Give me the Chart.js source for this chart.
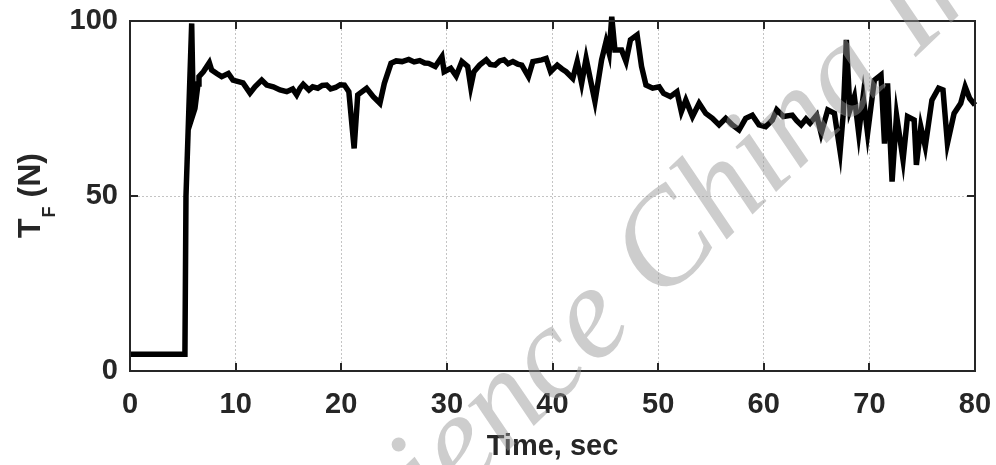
<!DOCTYPE html>
<html>
<head>
<meta charset="utf-8">
<script src="https://cdn.jsdelivr.net/npm/chart.js@4.4.1/dist/chart.umd.min.js"></script>
<style>
  html, body { margin: 0; padding: 0; background: #fff; }
  #wrap { width: 996px; height: 465px; }
</style>
</head>
<body>
<div id="wrap"><canvas id="forceChart" width="996" height="465"></canvas></div>
<script>
// tension force record, seconds vs newtons
const tSec = [0, 5.2, 5.3, 5.84, 6.0, 6.15, 6.44, 6.53, 6.94, 7.51, 7.73, 8.21, 8.68, 9.31, 9.75,
  10.7, 11.36, 11.83, 12.47, 12.94, 13.57, 14.2, 14.84, 15.4, 15.78,
  16.1, 16.4, 16.94, 17.3, 17.78, 18.2, 18.62, 19.0, 19.46, 19.9, 20.3, 20.72, 21.22, 21.56,
  22.4, 23.03, 23.66, 24.08, 24.71, 25.2, 25.76, 26.39, 26.9, 27.43, 27.9, 28.27, 28.9, 29.53, 29.74,
  30.37, 30.88, 31.42, 31.97, 32.26, 32.56, 33.1, 33.73, 34.1, 34.57, 35.0, 35.41, 35.8, 36.25, 36.7,
  37.09, 37.72, 38.14, 38.98, 39.4, 39.82, 40.45, 40.9, 41.29, 41.92, 42.34, 42.76, 43.18, 43.6,
  44.02, 44.65, 45.07, 45.36, 45.61, 45.91, 46.54, 46.96, 47.38, 48.01, 48.43, 48.85, 49.48,
  50.1, 50.52, 51.15, 51.78, 52.2, 52.62, 53.25, 53.88, 54.51, 55.14, 55.77, 56.4, 57.03, 57.66,
  58.29, 58.92, 59.55, 60.18, 60.81, 61.23, 61.86, 62.7, 63.1, 63.54, 64.0, 64.38, 65.01, 65.43,
  66.06, 66.69, 67.23, 67.53, 67.82, 68.16, 68.58, 68.99, 69.41, 69.83, 70.47, 71.1, 71.43, 71.72,
  72.15, 72.57, 73.19, 73.61, 74.24, 74.45, 74.87, 75.29, 75.92, 76.55, 76.97, 77.39, 78.02,
  78.65, 79.07, 79.49, 80];
const forceN = [4.8, 4.8, 50, 99.3, 73.6, 75, 82, 84.1, 85.5, 88.1, 86, 85, 84.1, 85, 83.1,
  82.3, 79.4, 81.2, 83.1, 81.7, 81.2, 80.3, 79.8, 80.6, 78.9,
  80.8, 81.9, 80.3, 81.2, 80.8, 81.6, 81.7, 80.6, 81, 81.8, 81.7, 79.8, 63.6, 78.9,
  80.8, 78.4, 76.5, 82.2, 87.9, 88.6, 88.4, 89, 88.3, 88.7, 88.0, 87.9, 87, 89.8, 85.5,
  86.5, 84.3, 88.4, 87, 81.2, 85.5, 87.4, 88.9, 87.6, 87.4, 88.6, 88.9, 87.8, 88.4, 87.7,
  87.4, 84.1, 88.4, 88.9, 89.3, 85.5, 87.4, 86.3, 85.5, 83.6, 88.4, 82.2, 89.3, 83.1,
  77, 88.9, 94.1, 90.8, 101.2, 91.7, 91.7, 88.4, 94.6, 96, 87, 81.7, 80.8,
  81.2, 79.3, 78.4, 79.8, 74.1, 77.4, 72.7, 76.5, 73.6, 72.2, 70.3, 72.2, 70.3, 68.9,
  72.2, 73.1, 70.3, 69.8, 71.7, 74.6, 72.7, 73.1, 71.6, 70.3, 72.0, 70.8, 73.1, 67.9,
  74.6, 73.6, 62.7, 73.6, 94.6, 74.6, 78.4, 67.9, 78.4, 67.9, 83.1, 84.6, 65, 82.2,
  54.1, 73.1, 60.3, 72.7, 71.7, 58.9, 69.8, 64.1, 77.4, 80.8, 80.3, 65, 73.6,
  76.5, 81.2, 77.9, 76];

const xTicks = [0, 10, 20, 30, 40, 50, 60, 70, 80];
const yTicks = [0, 50, 100];

const axisFont = { family: 'Liberation Sans, Arial, sans-serif', size: 29, weight: 'bold' };
const inkColor = '#262626';

// box, inward ticks, y title with subscript and the grey watermark
const framePlugin = {
  id: 'frame',
  afterDatasetsDraw(chart) {
    const { ctx, chartArea: a, scales } = chart;
    ctx.save();
    ctx.strokeStyle = inkColor;
    ctx.lineWidth = 2;
    ctx.strokeRect(a.left, a.top, a.right - a.left, a.bottom - a.top);
    const tl = 8;
    ctx.beginPath();
    xTicks.forEach(v => {
      const px = Math.round(scales.x.getPixelForValue(v));
      ctx.moveTo(px, a.bottom); ctx.lineTo(px, a.bottom - tl);
      ctx.moveTo(px, a.top); ctx.lineTo(px, a.top + tl);
    });
    yTicks.forEach(v => {
      const py = Math.round(scales.y.getPixelForValue(v));
      ctx.moveTo(a.left, py); ctx.lineTo(a.left + tl, py);
      ctx.moveTo(a.right, py); ctx.lineTo(a.right - tl, py);
    });
    ctx.stroke();
    ctx.restore();
  },
  afterDraw(chart) {
    const { ctx, chartArea: a } = chart;
    // y axis title: T_F (N)
    ctx.save();
    const cy = (a.top + a.bottom) / 2;
    ctx.translate(40, cy);
    ctx.rotate(-Math.PI / 2);
    ctx.fillStyle = inkColor;
    ctx.textBaseline = 'alphabetic';
    const big = 'bold 32px Liberation Sans, Arial, sans-serif';
    const small = 'bold 18px Liberation Sans, Arial, sans-serif';
    ctx.font = big;
    const wT = ctx.measureText('T').width;
    const wN = ctx.measureText(' (N)').width;
    ctx.font = small;
    const wF = ctx.measureText('F').width;
    let x0 = -(wT + wF + wN) / 2;
    ctx.font = big;
    ctx.fillText('T', x0, 0);
    ctx.font = small;
    ctx.fillText('F', x0 + wT + 1, 15);
    ctx.font = big;
    ctx.fillText(' (N)', x0 + wT + wF + 1, 0);
    ctx.restore();

    // watermark
    ctx.save();
    ctx.font = 'italic 132px Liberation Serif, Times New Roman, serif';
    ctx.fillStyle = 'rgba(150,150,150,0.48)';
    ctx.translate(660, 304);
    ctx.rotate(-44 * Math.PI / 180);
    const pre = ctx.measureText('Science ').width;
    ctx.fillText('Science China Information Sciences', -pre, 0);
    ctx.restore();
  }
};

const ctx = document.getElementById('forceChart').getContext('2d');
const forceChart = new Chart(ctx, {
  type: 'line',
  data: {
    datasets: [{
      data: tSec.map((t, i) => ({ x: t, y: forceN[i] })),
      borderColor: '#000',
      borderWidth: 5.5,
      pointRadius: 0,
      tension: 0,
      fill: false,
      clip: 6
    }]
  },
  options: {
    responsive: false,
    animation: false,
    devicePixelRatio: 1,
    layout: { padding: { left: 0, right: 21, top: 21, bottom: 0 } },
    plugins: { legend: { display: false }, tooltip: { enabled: false } },
    scales: {
      x: {
        type: 'linear',
        min: 0, max: 80,
        afterBuildTicks: s => { s.ticks = xTicks.map(v => ({ value: v })); },
        afterFit: s => { s.height = 94; s.paddingLeft = 0; s.paddingRight = 0; },
        ticks: { font: axisFont, color: inkColor, padding: 17, maxRotation: 0 },
        grid: { color: '#c4c4c4', lineWidth: 1, drawTicks: false },
        border: { display: false, dash: [2, 2] },
        title: {
          display: true, text: 'Time, sec', color: inkColor,
          font: { family: 'Liberation Sans, Arial, sans-serif', size: 29, weight: 'bold' },
          padding: { top: 4, bottom: 1 }
        }
      },
      y: {
        min: 0, max: 100,
        afterBuildTicks: s => { s.ticks = yTicks.map(v => ({ value: v })); },
        afterFit: s => { s.width = 130; s.paddingTop = 0; s.paddingBottom = 0; },
        ticks: { font: axisFont, color: inkColor, padding: 12 },
        grid: { color: '#c4c4c4', lineWidth: 1, drawTicks: false },
        border: { display: false, dash: [2, 2] }
      }
    }
  },
  plugins: [framePlugin]
});
</script>
</body>
</html>
